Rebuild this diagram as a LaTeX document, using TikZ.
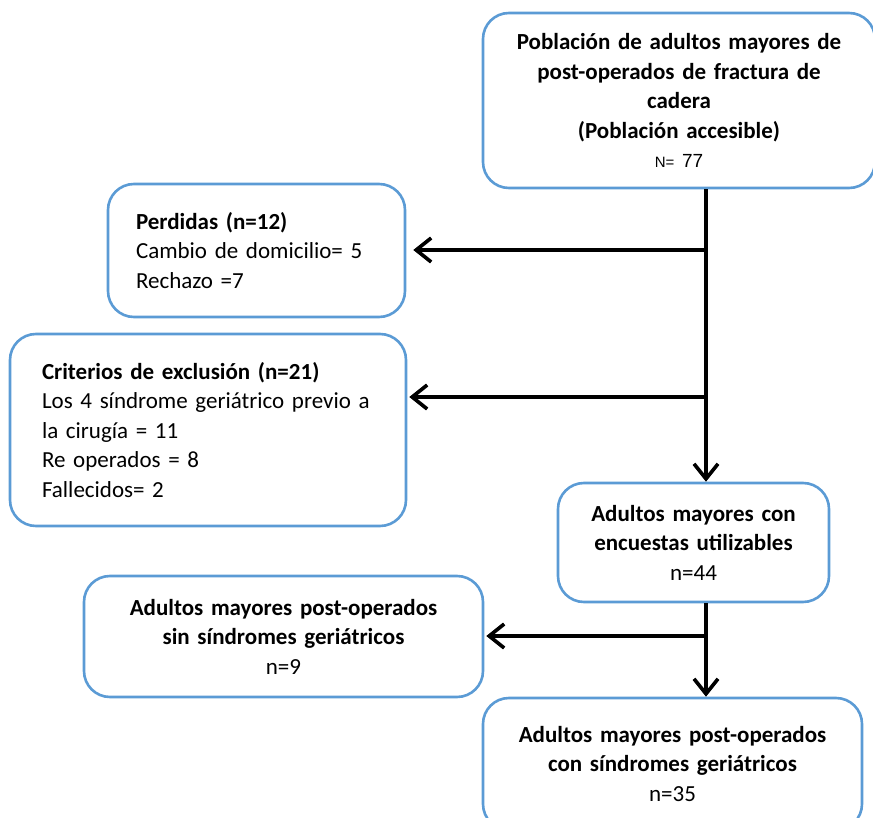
\documentclass[tikz,border=0pt]{standalone}
\usepackage{fontspec}
\setmainfont{Carlito}
\newfontfamily\arialfont{Liberation Sans}
\usetikzlibrary{arrows.meta}
\definecolor{boxblue}{RGB}{91,155,213}

\begin{document}
\begin{tikzpicture}[
    x=1pt, y=-1pt,
    font=\fontsize{23}{29.5}\selectfont,
    box/.style={draw=boxblue, line width=2.6pt, rounded corners=26pt,
                fill=white, inner sep=0pt},
    midbox/.style={box, align=center},
    sidebox/.style={box, align=left},
    flow/.style={line width=3.6pt, -{Straight Barb[length=15pt, width=24pt]}},
    branch/.style={flow, shorten >=2pt}
]
\useasboundingbox (0,0) rectangle (873,818);

% --- boxes ---
\node[midbox, minimum width=392pt, minimum height=175pt, text width=380pt] (top)
      at (679,100.5)
      {\textbf{Población de adultos mayores de}\\
       \textbf{post-operados de fractura de}\\
       \textbf{cadera}\\
       \textbf{(Población accesible)}\\
       {\arialfont\fontsize{15}{29.5}\selectfont N= \fontsize{19}{29.5}\selectfont 77}};

\node[sidebox, minimum width=297pt, minimum height=133pt, text width=241pt] (perd)
      at (256.5,250.5)
      {\textbf{Perdidas (n=12)}\\
       Cambio de domicilio= 5\\
       Rechazo =7};

\node[sidebox, minimum width=396pt, minimum height=192pt, text width=332pt] (excl)
      at (208,430)
      {\textbf{Criterios de exclusión (n=21)}\\
       Los 4 síndrome geriátrico previo a\\
       la cirugía = 11\\
       Re operados = 8\\
       Fallecidos= 2};

\node[midbox, minimum width=271pt, minimum height=119pt, text width=260pt] (util)
      at (693.5,542.5)
      {\textbf{Adultos mayores con}\\
       \textbf{encuestas utilizables}\\
       n=44};

\node[midbox, minimum width=399pt, minimum height=121pt, text width=380pt] (sin)
      at (283.5,636.5)
      {\textbf{Adultos mayores post-operados}\\
       \textbf{sin síndromes geriátricos}\\
       n=9};

\node[midbox, minimum width=379pt, minimum height=132pt, text width=360pt] (con)
      at (672.5,764)
      {\textbf{Adultos mayores post-operados}\\
       \textbf{con síndromes geriátricos}\\
       n=35};

% --- junctions on the main line ---
\coordinate (j1) at (706,250);
\coordinate (j2) at (706,397);
\coordinate (j3) at (706,636);

% --- connectors ---
\draw[flow] (top.south -| j1) -- (util.north -| j1);
\draw[branch, shorten >=7pt] (j1) -- (perd.east |- j1);
\draw[branch] (j2) -- (excl.east |- j2);
\draw[flow] (util.south -| j3) -- (con.north -| j3);
\draw[branch] (j3) -- (sin.east |- j3);

\end{tikzpicture}
\end{document}
